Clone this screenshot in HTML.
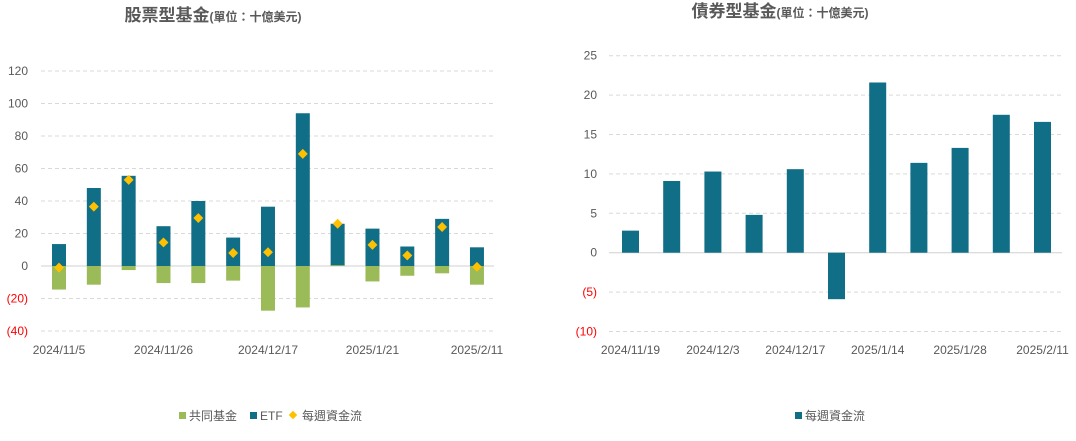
<!DOCTYPE html>
<html><head><meta charset="utf-8"><style>
body{margin:0;background:#fff;width:1076px;height:436px;overflow:hidden;font-family:"Liberation Sans","Noto Sans CJK TC",sans-serif}
svg text{font-family:"Liberation Sans","Noto Sans CJK TC",sans-serif}
</style></head><body>
<svg id="c" width="1076" height="436">
<text x="213" y="21" text-anchor="middle" fill="#595959" font-weight="bold" font-size="17">股票型基金<tspan font-size="12">(單位：十億美元)</tspan></text>
<text x="780" y="17" text-anchor="middle" fill="#595959" font-weight="bold" font-size="17">債券型基金<tspan font-size="12">(單位：十億美元)</tspan></text>
<g>
<rect x="179" y="412" width="7" height="7" fill="#9bbb59"/><text x="189" y="420" font-size="12" fill="#595959">共同基金</text>
<rect x="250" y="412" width="7" height="7" fill="#116e87"/><text x="260" y="420" font-size="12" fill="#595959">ETF</text>
<rect x="290" y="412" width="6" height="6" fill="#ffc000" transform="rotate(45 293 415)"/><text x="302" y="420" font-size="12" fill="#595959">每週資金流</text>
</g>
<g>
<rect x="795" y="412" width="7" height="7" fill="#116e87"/><text x="805" y="420" font-size="12" fill="#595959">每週資金流</text>
</g>
</svg>
<script>
const eqLabels=["2024/11/5","","","2024/11/26","","","2024/12/17","","","2025/1/21","","","2025/2/11"];
const eqETF=[13.5,48,55.5,24.5,40,17.5,36.5,94,26,23,12,29,11.5];
const eqMutual=[-14.5,-11.5,-2.5,-10.5,-10.5,-9,-27.5,-25.5,0.5,-9.5,-6,-4.5,-11.5];
const eqWeekly=[-1,36.5,53,14.5,29.5,8,8.5,69,26,13,6.5,24,-0.5];
const eqTicks=[120,100,80,60,40,20,0,-20,-40];
const bdLabels=["2024/11/19","","2024/12/3","","2024/12/17","","2025/1/14","","2025/1/28","","2025/2/11"];
const bdFlow=[2.8,9.1,10.3,4.8,10.6,-5.9,21.6,11.4,13.3,17.5,16.6];
const bdTicks=[25,20,15,10,5,0,-5,-10];
const svg=document.getElementById('c');
const NS='http://www.w3.org/2000/svg';
function mk(t,a,p){const e=document.createElementNS(NS,t);for(const k in a)e.setAttribute(k,a[k]);(p||svg).appendChild(e);return e;}
function fmt(v){return v<0?'('+(-v)+')':String(v);}
function axes(ticks,y,x0,x1,lx){
 ticks.forEach(t=>{
  const l=mk('line',{x1:x0,x2:x1,y1:y(t),y2:y(t),stroke:t===0?'#d0d0d0':'#d9d9d9','stroke-width':1,'stroke-dasharray':t===0?'':'4,3'});
  
  
  const tx=mk('text',{x:lx,y:y(t)+4,'text-anchor':'end','font-size':12,fill:t<0?'#ff0000':'#595959'});
  tx.textContent=fmt(t);
  
  
 });
}
// equity
const ey=v=>266-v*1.625, ex=i=>59+i*34.83;
axes(eqTicks,ey,41,494,28);
eqETF.forEach((v,i)=>{const r=mk('rect',{x:ex(i)-7,y:Math.min(ey(v),ey(0)),width:14,height:Math.abs(ey(v)-ey(0)),fill:'#116e87'});
 
 });
eqMutual.forEach((v,i)=>{const r=mk('rect',{x:ex(i)-7,y:Math.min(ey(v),ey(0)),width:14,height:Math.abs(ey(v)-ey(0)),fill:'#9bbb59'});
 
 });
eqWeekly.forEach((v,i)=>{const r=mk('rect',{x:ex(i)-3.5,y:ey(v)-3.5,width:7,height:7,fill:'#ffc000',transform:`rotate(45 ${ex(i)} ${ey(v)})`});
 
 });
eqLabels.forEach((s,i)=>{if(!s)return;const t=mk('text',{x:ex(i),y:354,'text-anchor':'middle','font-size':12,fill:'#595959'});t.textContent=s;
 
 });
// bond
const by=v=>252.7-v*7.88, bx=i=>630.5+i*41.2;
axes(bdTicks,by,609,1062,597);
bdFlow.forEach((v,i)=>{const r=mk('rect',{x:bx(i)-8.5,y:Math.min(by(v),by(0)),width:17,height:Math.abs(by(v)-by(0)),fill:'#116e87'});
 
 });
bdLabels.forEach((s,i)=>{if(!s)return;const t=mk('text',{x:bx(i),y:354,'text-anchor':'middle','font-size':12,fill:'#595959'});t.textContent=s;
 
 });
</script>
</body></html>
